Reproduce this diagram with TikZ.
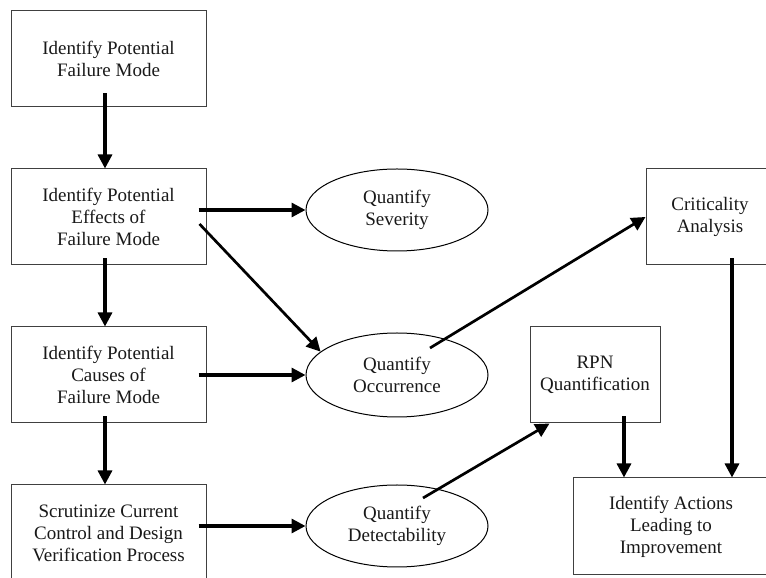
\documentclass[tikz,border=0pt]{standalone}
\usepackage{fontspec}
\setmainfont{Liberation Serif}
\usetikzlibrary{arrows.meta,shapes.geometric}
\begin{document}
\begin{tikzpicture}[x=1pt,y=1pt,
  txt/.style={font=\fontsize{19}{22}\selectfont, align=center, text=black!90, inner sep=0pt},
  procbox/.style={txt, draw=black!75, line width=1pt, minimum height=96pt},
  oval/.style={txt, ellipse, draw=black, line width=1pt, minimum width=182pt, minimum height=82pt},
  conn/.style={line width=3.2pt, -{Triangle[length=14pt,width=14pt]}},
  diag/.style={conn, line width=2.7pt}
]
\useasboundingbox (0,0) rectangle (766,578);
\clip (0,0) rectangle (766,578);
\fill[white] (0,0) rectangle (766,578);

\node[procbox, minimum width=195pt] (b1) at (108.5,519) {Identify Potential\\Failure Mode};
\node[procbox, minimum width=195pt] (b2) at (108.5,361) {Identify Potential\\Effects of\\Failure Mode};
\node[procbox, minimum width=195pt] (b3) at (108.5,203) {Identify Potential\\Causes of\\Failure Mode};
\node[procbox, minimum width=195pt] (b4) at (108.5,45) {Scrutinize Current\\Control and Design\\Verification Process};

\node[oval] (sev) at (397,368) {Quantify\\Severity};
\node[oval, minimum height=84pt] (occ) at (397,203) {Quantify\\Occurrence};
\node[oval] (det) at (397,52) {Quantify\\Detectability};

\node[procbox, minimum width=128pt] (crit) at (710,361) {Criticality\\Analysis};
\node[procbox, minimum width=130pt] (rpn) at (595,203) {RPN\\Quantification};
\node[procbox, minimum width=196pt, minimum height=97pt] (act) at (671,51.5) {Identify Actions\\Leading to\\Improvement};

\draw[conn] ([shift={(-3.5,14)}]b1.south) -- ([xshift=-3.5]b2.north);
\draw[conn] ([shift={(-3.5,7)}]b2.south) -- ([xshift=-3.5]b3.north);
\draw[conn] ([shift={(-3.5,7)}]b3.south) -- ([xshift=-3.5]b4.north);

\draw[conn] ([shift={(-8,7)}]b2.east) -- (sev.west);
\draw[diag] ([shift={(-7,-7)}]b2.east) -- (occ.163);
\draw[conn] ([xshift=-8]b3.east) -- (occ.west);
\draw[conn] ([shift={(-8,7)}]b4.east) -- (det.west);

\draw[diag] ([shift={(33,27)}]occ.center) -- (crit.west);
\draw[diag] ([shift={(26,28)}]det.center) -- ([xshift=20]rpn.south west);

\draw[conn] ([shift={(29,7)}]rpn.south) -- ([xshift=-47]act.north);
\draw[conn] ([shift={(22,7)}]crit.south) -- ([xshift=61]act.north);
\end{tikzpicture}
\end{document}
